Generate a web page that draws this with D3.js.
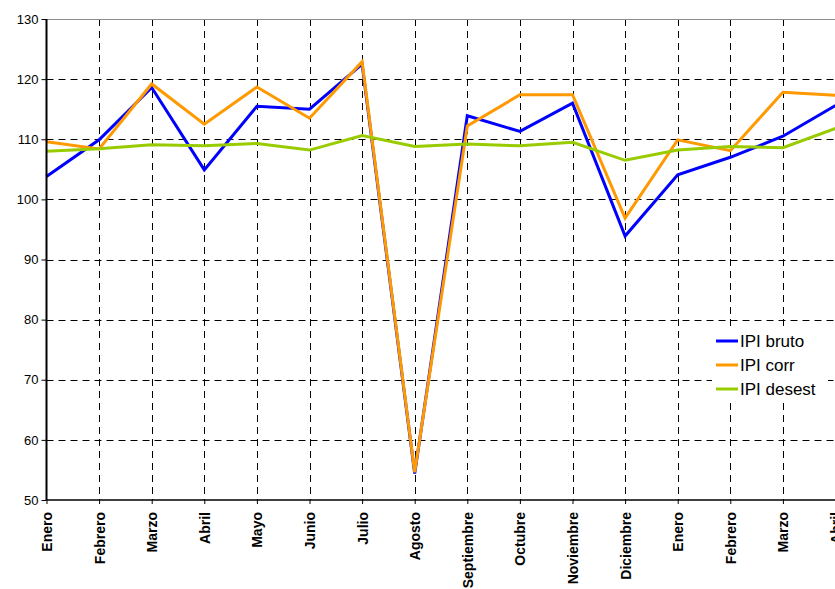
<!DOCTYPE html>
<html>
<head>
<meta charset="utf-8">
<script src="https://cdn.jsdelivr.net/npm/d3@7"></script>
<style>
  html, body { margin: 0; padding: 0; background: #fff; }
  svg { display: block; font-family: "Liberation Sans", Arial, sans-serif; }
</style>
</head>
<body>
<svg id="chart" width="835" height="589"></svg>
<script>
// Months shown on the category axis (two consecutive years)
const months = ["Enero", "Febrero", "Marzo", "Abril", "Mayo", "Junio", "Julio", "Agosto",
  "Septiembre", "Octubre", "Noviembre", "Diciembre", "Enero", "Febrero", "Marzo", "Abril"];

// Industrial production index series
const ipiBruto  = [103.8, 109.9, 118.6, 104.9, 115.5, 115.0, 122.5, 54.4, 113.9, 111.3, 116.0, 93.9, 104.1, 107.0, 110.5, 115.6];
const ipiCorr   = [109.6, 108.4, 119.2, 112.5, 118.7, 113.5, 122.9, 54.6, 112.2, 117.4, 117.4, 96.9, 109.9, 108.1, 117.8, 117.3];
const ipiDesest = [108.0, 108.4, 109.1, 108.9, 109.3, 108.2, 110.6, 108.8, 109.2, 108.9, 109.5, 106.5, 108.2, 108.8, 108.6, 111.8];

const yTicks = [50, 60, 70, 80, 90, 100, 110, 120, 130];

const seriesNames  = ["IPI bruto", "IPI corr", "IPI desest"];
const seriesValues = [ipiBruto, ipiCorr, ipiDesest];
const seriesColors = ["#0000ff", "#ff9900", "#99cc00"];

const svg = d3.select("#chart");
const W = 835;
const plotLeft = 46.5, plotTop = 19, plotBottom = 500;
const step = 52.6;

const keys = months.map((m, i) => i);
const x = d3.scalePoint().domain(keys).range([plotLeft, plotLeft + step * (months.length - 1)]);
const y = d3.scaleLinear().domain([50, 130]).range([plotBottom, plotTop]);

// dashed grid
const grid = svg.append("g");
grid.selectAll("line.h").data(yTicks.filter(v => v !== 50 && v !== 130)).join("line")
  .attr("x1", plotLeft).attr("x2", W + 10)
  .attr("y1", d => Math.round(y(d)) + 0.5).attr("y2", d => Math.round(y(d)) + 0.5)
  .attr("stroke", "#000").attr("stroke-width", 1).attr("stroke-dasharray", "7,5");
grid.selectAll("line.v").data(keys.slice(1)).join("line")
  .attr("x1", d => Math.round(x(d)) + 0.5).attr("x2", d => Math.round(x(d)) + 0.5)
  .attr("y1", plotTop).attr("y2", plotBottom)
  .attr("stroke", "#000").attr("stroke-width", 1).attr("stroke-dasharray", "7,5");

// plot frame top edge
svg.append("line").attr("x1", plotLeft).attr("x2", W + 10)
  .attr("y1", plotTop + 0.5).attr("y2", plotTop + 0.5)
  .attr("stroke", "#8c8c8c").attr("stroke-width", 1);

// series lines (last series on top)
const line = d3.line().x((d, i) => x(i)).y(d => y(d));
seriesValues.forEach((vals, k) => {
  svg.append("path").datum(vals)
    .attr("d", line)
    .attr("fill", "none")
    .attr("stroke", seriesColors[k])
    .attr("stroke-width", 3)
    .attr("stroke-linejoin", "miter");
});

// y axis
const yAxis = d3.axisLeft(y).tickValues(yTicks).tickSize(5).tickPadding(3);
const gy = svg.append("g").attr("transform", `translate(${plotLeft},0)`).call(yAxis);
gy.select(".domain").attr("stroke", "#000").attr("stroke-width", 2)
  .attr("d", `M0,${plotTop}V${plotBottom}`);
gy.selectAll(".tick line").attr("stroke", "#000");
gy.selectAll(".tick text").attr("font-size", 13).attr("fill", "#000")
  .attr("font-family", "Liberation Sans, Arial, sans-serif");

// x axis
const xAxis = d3.axisBottom(x).tickSize(4).tickFormat(i => months[i]);
const gx = svg.append("g").attr("transform", `translate(0,${plotBottom})`).call(xAxis);
gx.select(".domain").attr("stroke", "#000").attr("stroke-width", 1.5)
  .attr("d", `M${plotLeft},0H${W + 10}`);
gx.selectAll(".tick line").attr("stroke", "#000");
gx.selectAll(".tick text")
  .attr("font-size", 14).attr("font-weight", "bold").attr("fill", "#000")
  .attr("font-family", "Liberation Sans, Arial, sans-serif")
  .attr("text-anchor", "end")
  .attr("transform", "rotate(-90)")
  .attr("x", -12).attr("y", 0).attr("dy", "0.35em");

// legend
const lg = svg.append("g").attr("transform", "translate(712,328)");
lg.append("rect").attr("width", 116).attr("height", 74).attr("fill", "#fff");
seriesNames.forEach((name, k) => {
  const cy = 13 + k * 24;
  lg.append("line").attr("x1", 4).attr("x2", 26).attr("y1", cy).attr("y2", cy)
    .attr("stroke", seriesColors[k]).attr("stroke-width", 3);
  lg.append("text").attr("x", 28).attr("y", cy).attr("dy", "0.35em")
    .attr("font-size", 17).attr("fill", "#000").text(name);
});
</script>
</body>
</html>
